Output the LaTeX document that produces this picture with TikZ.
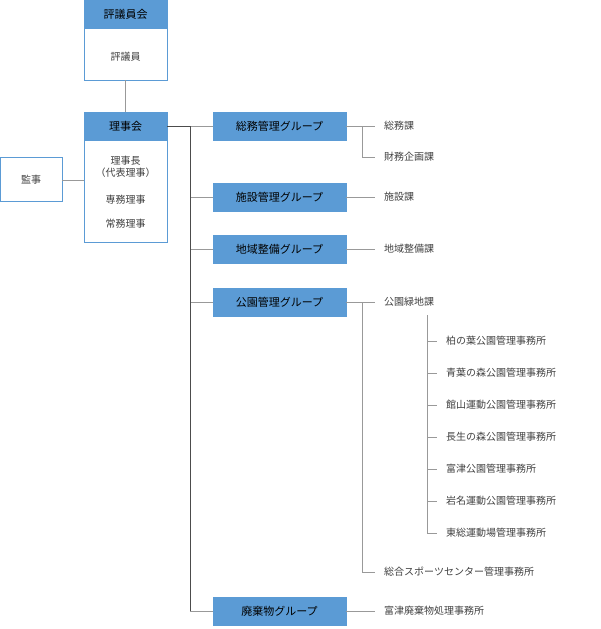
\documentclass[tikz,border=0pt]{standalone}
\usepackage{fontspec}
\setmainfont{Noto Sans CJK JP}
\definecolor{hdblue}{HTML}{5B9BD5}
\tikzset{
	hd/.style={fill=hdblue,draw=hdblue,minimum height=28pt,inner sep=0pt,font=\fontsize{11}{13}\selectfont},
	bx/.style={draw=hdblue,line width=1pt,fill=white},
	ln/.style={draw=gray!80,line width=0.6pt},
	lb/.style={anchor=west,inner sep=0pt,font=\fontsize{10}{12}\selectfont,text=black!75}
}
\begin{document}
\begin{tikzpicture}[x=1pt,y=-1pt]
	\useasboundingbox (0,0) rectangle (600,629);
	% 評議員会
	\draw[bx] (84,0) rectangle (167,80);
	\node[hd,minimum width=83pt] (hyo) at (125.5,14) {評議員会};
	\node[lb,anchor=center] (hyoin) at (125.5,57) {評議員};
	% 理事会
	\draw[bx] (84,112) rectangle (167,242);
	\node[hd,minimum width=83pt] (riji) at (125.5,126) {理事会};
	\node[lb,anchor=center,align=center] at (125.5,167) {理事長\\（代表理事）};
	\node[lb,anchor=center] at (125.5,200) {専務理事};
	\node[lb,anchor=center] at (125.5,224) {常務理事};
	\coordinate (hyob) at (125.5,80);
	\coordinate (rijit) at (125.5,112);
	\draw[ln] (hyob) -- (rijit);
	% 監事
	\draw[bx] (0,157) rectangle (62,201);
	\node[lb,anchor=center] (kanji) at (31,180) {監事};
	\coordinate (kanjir) at (62,180);
	\coordinate (rijil) at (84,180);
	\draw[ln] (kanjir) -- (rijil);
	% groups
	\foreach \n/\y/\t in {g1/126/総務管理グループ,g2/197/施設管理グループ,g3/249/地域整備グループ,g4/302/公園管理グループ,g5/611/廃棄物グループ}
		{
		\node[hd,minimum width=133pt] (\n) at (279.5,\y) {\t};
		\coordinate (\n t) at (190,\y);
		\draw[ln] (\n t) -- (\n.west);
		}
	\coordinate (rijir) at (167,126);
	\draw[line width=1pt,black!70] (rijir) -- (g1t) -- (g5t);
	% sections
	\foreach \n/\y/\t in {s1/126/総務課,s2/157/財務企画課,s3/197/施設課,s4/249/地域整備課,s5/302/公園緑地課,s6/572/総合スポーツセンター管理事務所,s7/611/富津廃棄物処理事務所}
		{
		\node[lb] (\n) at (384,\y) {\t};
		}
	\coordinate (v1) at (362,126);
	\coordinate (v2) at (362,157);
	\coordinate (v5) at (362,302);
	\coordinate (v6) at (362,572);
	\draw[ln] (g1.east) -- ([xshift=-9pt]s1.west);
	\draw[ln] (v1) -- (v2) -- ([xshift=-9pt]s2.west);
	\draw[ln] (g2.east) -- ([xshift=-9pt]s3.west);
	\draw[ln] (g3.east) -- ([xshift=-9pt]s4.west);
	\draw[ln] (g4.east) -- ([xshift=-9pt]s5.west);
	\draw[ln] (v5) -- (v6) -- ([xshift=-9pt]s6.west);
	\draw[ln] (g5.east) -- ([xshift=-9pt]s7.west);
	% 公園管理事務所
	\coordinate (p0) at (427,315);
	\foreach \n/\y/\t in {p1/341/柏の葉公園管理事務所,p2/373/青葉の森公園管理事務所,p3/405/館山運動公園管理事務所,p4/437/長生の森公園管理事務所,p5/469/富津公園管理事務所,p6/501/岩名運動公園管理事務所,p7/533/東総運動場管理事務所}
		{
		\node[lb] (\n) at (446,\y) {\t};
		\coordinate (\n c) at (427,\y);
		\draw[ln] (\n c) -- ([xshift=-9pt]\n.west);
		}
	\draw[ln] (p0) -- (p7c);
\end{tikzpicture}
\end{document}
